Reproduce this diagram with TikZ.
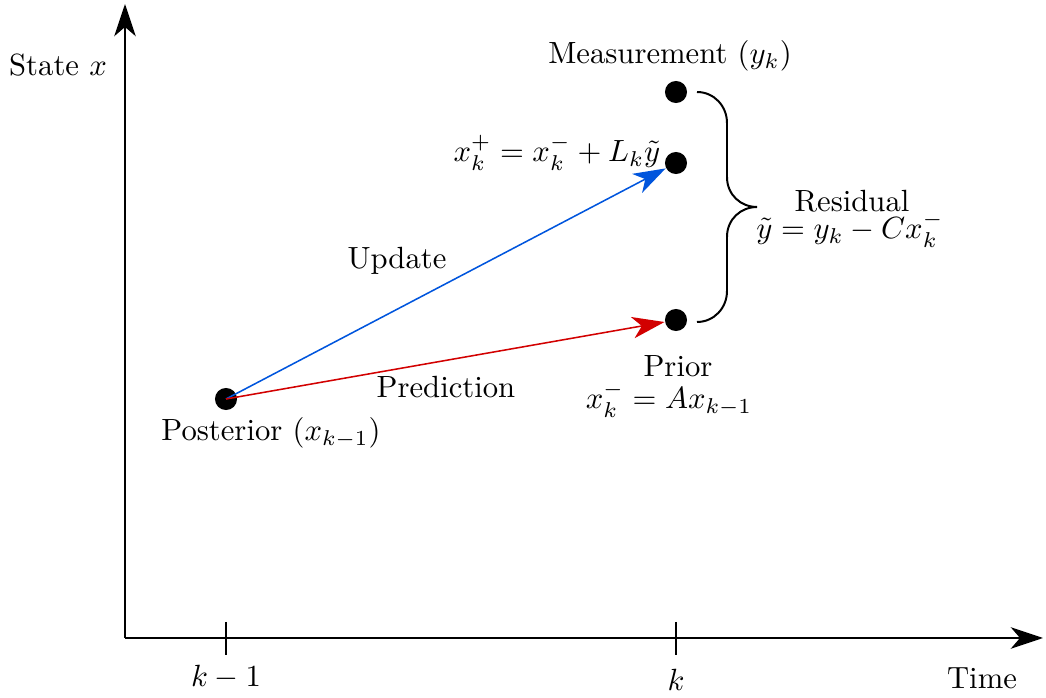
\documentclass[tikz,border=0pt]{standalone}
\usetikzlibrary{arrows.meta}
\definecolor{upblue}{RGB}{0,85,221}
\definecolor{prred}{RGB}{210,0,0}
\begin{document}
\begin{tikzpicture}[x=0.326pt,y=-0.326pt,
  axis/.style={line width=0.65pt,-{Stealth[length=10.5pt,width=7pt,inset=3pt]}},
  tip/.style={-{Stealth[length=10.5pt,width=7pt,inset=3pt]}},
  dot/.style={circle,fill=black,inner sep=0pt,minimum size=7.2pt},
  bracestyle/.style={line width=0.65pt},
  lbl/.style={inner sep=0pt}]
\useasboundingbox (0,0) rectangle (1046,698);
\coordinate (o) at (125,638);
\coordinate (ytop) at (125,4);
\coordinate (xend) at (1043,638);
\draw[axis] (o) -- (ytop);
\draw[axis] (o) -- (xend);
% ticks
\coordinate (t1a) at (226,622); \coordinate (t1b) at (226,655);
\coordinate (t2a) at (676,622); \coordinate (t2b) at (676,655);
\draw[line width=0.65pt] (t1a) -- (t1b);
\draw[line width=0.65pt] (t2a) -- (t2b);
\node[lbl] (lk1) at (226,677) {$k-1$};
\node[lbl] (lk) at (676,680) {$k$};
\node[lbl] (time) at (982,678) {Time};
\node[lbl] (state) at (58,65) {State $x$};
% dots
\node[dot] (post) at (226,399) {};
\node[dot] (prior) at (676,320) {};
\node[dot] (upd) at (676,163) {};
\node[dot] (meas) at (676,92) {};
% arrows
\draw[tip,upblue,line width=0.5pt] (post.center) -- (upd);
\draw[tip,prred,line width=0.5pt] (post.center) -- (prior);
% labels
\node[lbl] (lupd) at (397,261) {Update};
\node[lbl] (lpred) at (446,387) {Prediction};
\node[lbl] (lpost) at (271,433) {Posterior $(x_{k-1})$};
\node[lbl] (lprior) at (678,366) {Prior};
\node[lbl] (lprioreq) at (669,400) {$x_k^- = Ax_{k-1}$};
\node[lbl] (lmeas) at (670,56) {Measurement $(y_k)$};
\node[lbl] (lupdeq) at (557,153) {$x_k^+ = x_k^- + L_k\tilde{y}$};
\node[lbl] (lres) at (852,201) {Residual};
\node[lbl] (lreseq) at (850,230) {$\tilde{y} = y_k - Cx_k^-$};
% brace
\coordinate (btop) at (697,92);
\coordinate (b1) at (727,123);
\coordinate (b2) at (727,177);
\coordinate (btip) at (757,207);
\coordinate (b3) at (727,237);
\coordinate (b4) at (727,291);
\coordinate (bbot) at (697,322);
\draw[bracestyle] (btop) .. controls (714,92) and (727,106) .. (b1)
  -- (b2) .. controls (727,195) and (741,207) .. (btip)
  .. controls (741,207) and (727,219) .. (b3)
  -- (b4) .. controls (727,308) and (714,322) .. (bbot);
\end{tikzpicture}
\end{document}
